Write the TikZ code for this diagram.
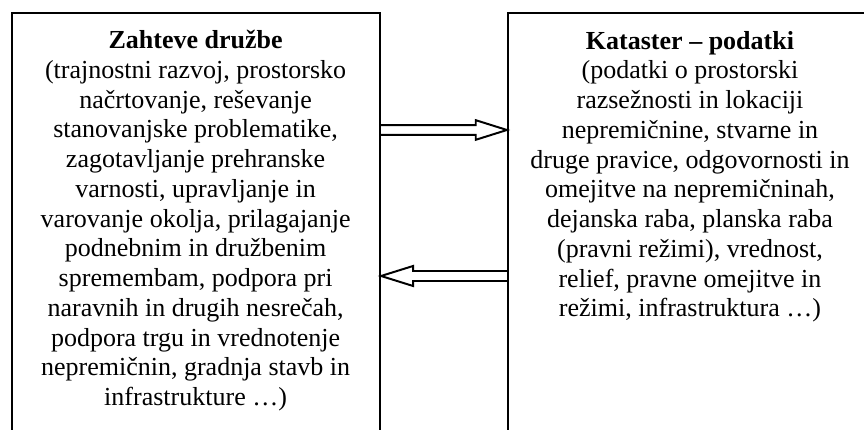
\documentclass[tikz,border=0pt]{standalone}
\usepackage{fontspec}
\setmainfont{Liberation Serif}
\usetikzlibrary{calc}

\begin{document}
\begin{tikzpicture}[
  x=1cm,
  y=1cm,
  frame/.style={draw=black, line width=1.5pt, fill=none, inner sep=0pt},
  boxtext/.style={align=center, inner sep=0pt, anchor=base, font=\fontsize{18.5}{21.16}\selectfont},
  hollow/.style={draw=black, line width=1.4pt, fill=white, line join=miter}
]
\useasboundingbox (0,0) rectangle (21.6,10.75);
\clip (0,0) rectangle (21.6,10.75);
\node[frame, minimum width=9.2cm, minimum height=11.0cm] (lbox) at (4.9,4.925) {};
\node[frame, minimum width=9.1cm, minimum height=11.0cm] (rbox) at (17.25,4.925) {};
\node[boxtext] (ltext) at (4.89,0.61) {\textbf{Zahteve družbe}\\(trajnostni razvoj, prostorsko\\načrtovanje, reševanje\\stanovanjske problematike,\\zagotavljanje prehranske\\varnosti, upravljanje in\\varovanje okolja, prilagajanje\\podnebnim in družbenim\\spremembam, podpora pri\\naravnih in drugih nesrečah,\\podpora trgu in vrednotenje\\nepremičnin, gradnja stavb in\\infrastrukture …)};
\node[boxtext] (rtext) at (17.25,2.83) {\textbf{Kataster – podatki}\\(podatki o prostorski\\razsežnosti in lokaciji\\nepremičnine, stvarne in\\druge pravice, odgovornosti in\\omejitve na nepremičninah,\\dejanska raba, planska raba\\(pravni režimi), vrednost,\\relief, pravne omejitve in\\režimi, infrastruktura …)};
\draw[hollow] ($(lbox.east |- 0,7.5)+(0,0.12)$) -- ($(rbox.west |- 0,7.5)+(-0.78,0.12)$) -- ++(0,0.125) -- (rbox.west |- 0,7.5) -- ++(-0.78,-0.245) -- ++(0,0.125) -- ($(lbox.east |- 0,7.5)+(0,-0.12)$);
\draw[hollow] ($(rbox.west |- 0,3.85)+(0,0.125)$) -- ($(lbox.east |- 0,3.85)+(0.8,0.125)$) -- ++(0,0.125) -- (lbox.east |- 0,3.85) -- ++(0.8,-0.25) -- ++(0,0.125) -- ($(rbox.west |- 0,3.85)+(0,-0.125)$);
\end{tikzpicture}
\end{document}
